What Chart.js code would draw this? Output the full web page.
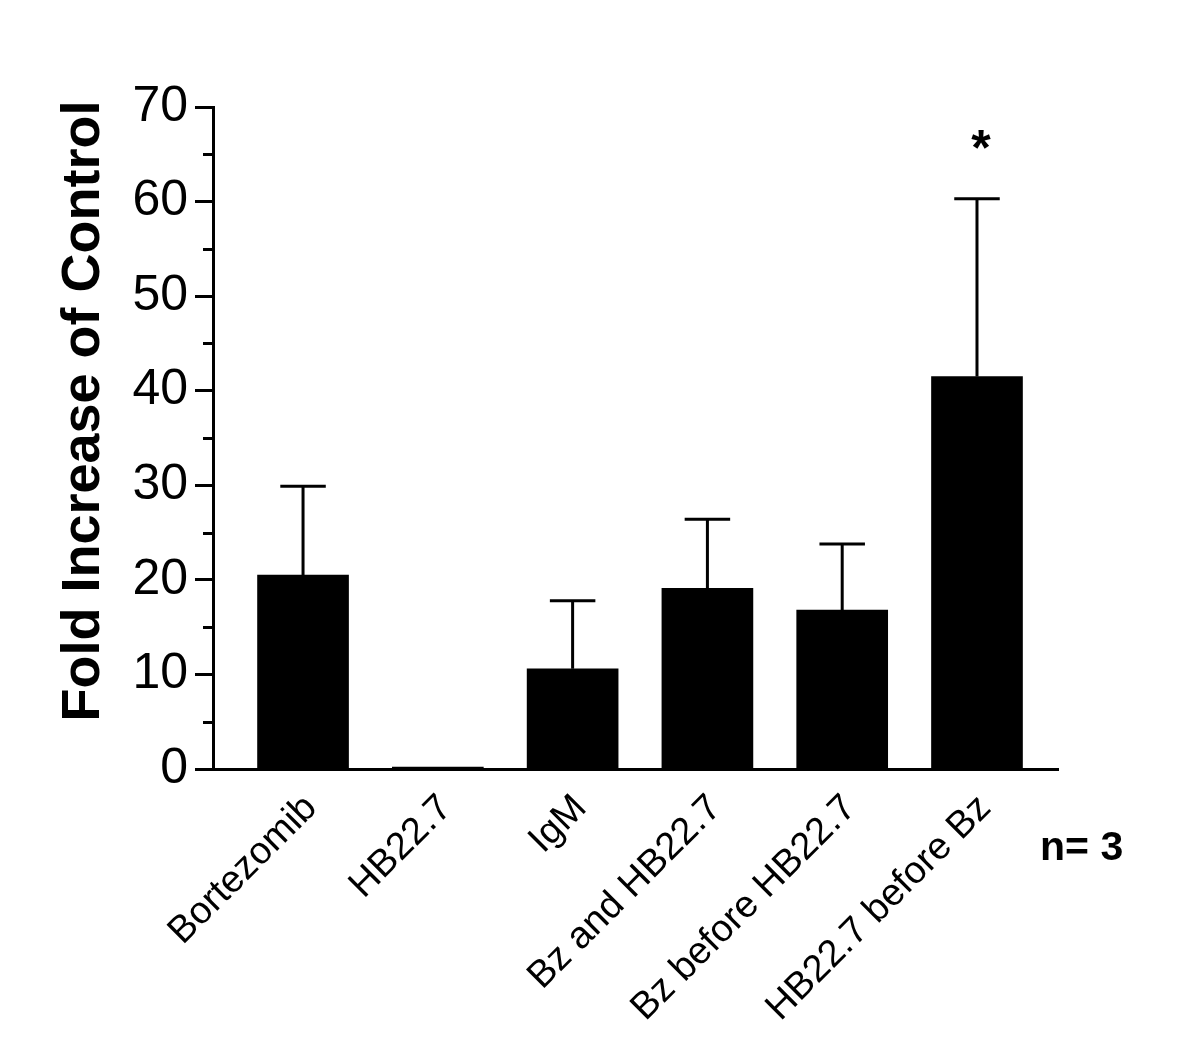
<!DOCTYPE html>
<html>
<head>
<meta charset="utf-8">
<script src="https://cdn.jsdelivr.net/npm/chart.js@4/dist/chart.umd.min.js"></script>
<style>
  html, body { margin: 0; padding: 0; background: #ffffff; }
  #wrap { width: 1200px; height: 1046px; }
</style>
</head>
<body>
<div id="wrap"><canvas id="c" width="1200" height="1046"></canvas></div>
<script>
// ---- data ----
const categories = ['Bortezomib', 'HB22.7', 'IgM', 'Bz and HB22.7', 'Bz before HB22.7', 'HB22.7 before Bz'];
const means = [20.5, 0.2, 10.6, 19.1, 16.8, 41.5];
const sem = [9.4, 0, 7.2, 7.3, 7.0, 18.8];
const significance = ['', '', '', '', '', '*'];
const yMajorTicks = [0, 10, 20, 30, 40, 50, 60, 70];
const yMinorTicks = [5, 15, 25, 35, 45, 55, 65];
const yTitle = 'Fold Increase of Control';
const sampleNote = 'n= 3';

const FONT = "'Liberation Sans', Arial, Helvetica, sans-serif";

const errorBarPlugin = {
  id: 'errorBars',
  afterDatasetsDraw(chart) {
    const ctx = chart.ctx;
    const meta = chart.getDatasetMeta(0);
    const y = chart.scales.y;
    ctx.save();
    ctx.strokeStyle = '#000';
    ctx.lineWidth = 3;
    meta.data.forEach((bar, i) => {
      if (!sem[i]) return;
      const yTop = y.getPixelForValue(means[i] + sem[i]);
      const yBase = y.getPixelForValue(means[i]);
      const half = bar.width / 4;
      ctx.beginPath();
      ctx.moveTo(bar.x, yBase);
      ctx.lineTo(bar.x, yTop);
      ctx.moveTo(bar.x - half, yTop);
      ctx.lineTo(bar.x + half, yTop);
      ctx.stroke();
    });
    // significance markers
    ctx.fillStyle = '#000';
    ctx.font = 'bold 50px ' + FONT;
    ctx.textAlign = 'center';
    ctx.textBaseline = 'alphabetic';
    meta.data.forEach((bar, i) => {
      if (!significance[i]) return;
      const yTop = y.getPixelForValue(means[i] + sem[i]);
      ctx.fillText(significance[i], bar.x + 4, yTop - 34);
    });
    ctx.restore();
  },
  afterDraw(chart) {
    const ctx = chart.ctx;
    const y = chart.scales.y;
    const area = chart.chartArea;
    ctx.save();
    // minor ticks
    ctx.strokeStyle = '#000';
    ctx.lineWidth = 3;
    yMinorTicks.forEach(v => {
      const py = Math.round(y.getPixelForValue(v)) + 0.5;
      ctx.beginPath();
      ctx.moveTo(area.left - 10, py);
      ctx.lineTo(area.left, py);
      ctx.stroke();
    });
    // y axis title
    ctx.fillStyle = '#000';
    ctx.font = 'bold 54px ' + FONT;
    ctx.textAlign = 'center';
    ctx.textBaseline = 'alphabetic';
    ctx.translate(99, 411);
    ctx.rotate(-Math.PI / 2);
    ctx.fillText(yTitle, 0, 0);
    ctx.restore();
    // sample size note
    ctx.save();
    ctx.fillStyle = '#000';
    ctx.font = 'bold 41px ' + FONT;
    ctx.textAlign = 'left';
    ctx.textBaseline = 'alphabetic';
    ctx.fillText(sampleNote, 1040, 860);
    ctx.restore();
  }
};

new Chart(document.getElementById('c'), {
  type: 'bar',
  data: {
    datasets: [{
      data: means.map((v, i) => ({ x: i, y: v })),
      backgroundColor: '#000000',
      borderWidth: 0,
      barThickness: 91
    }]
  },
  options: {
    responsive: false,
    animation: false,
    devicePixelRatio: 1,
    layout: { padding: { top: 107, right: 142, bottom: 0, left: 0 } },
    plugins: { legend: { display: false }, tooltip: { enabled: false } },
    scales: {
      x: {
        type: 'linear',
        offset: false,
        min: -0.668,
        max: 5.601,
        grid: { display: false, drawTicks: false, offset: false },
        border: { display: true, color: '#000', width: 3 },
        afterBuildTicks(scale) {
          scale.ticks = categories.map((_, i) => ({ value: i + 0.06 }));
        },
        afterFit(scale) { scale.height = 277; },
        ticks: {
          autoSkip: false,
          minRotation: 45,
          maxRotation: 45,
          padding: 17,
          color: '#000',
          font: { family: FONT, size: 38 },
          callback: (v) => categories[Math.round(v)]
        }
      },
      y: {
        min: 0,
        max: 70,
        afterBuildTicks(scale) {
          scale.ticks = yMajorTicks.map(v => ({ value: v }));
        },
        afterFit(scale) { scale.width = 213; },
        grid: {
          display: true,
          drawOnChartArea: false,
          drawTicks: true,
          tickLength: 18,
          tickWidth: 3,
          tickColor: '#000',
          color: '#000'
        },
        border: { display: true, color: '#000', width: 3 },
        ticks: {
          padding: 7,
          color: '#000',
          font: { family: FONT, size: 50 }
        }
      }
    }
  },
  plugins: [errorBarPlugin]
});
</script>
</body>
</html>
